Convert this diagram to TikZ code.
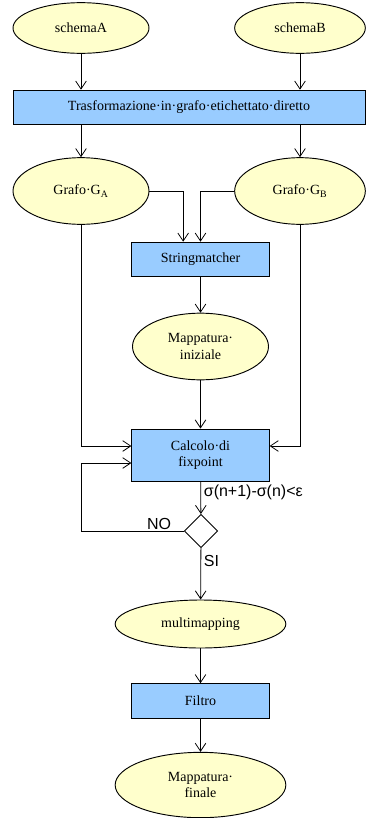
\documentclass[tikz,border=0pt]{standalone}
\usepackage{fontspec}
\setmainfont{Liberation Serif}
\newfontfamily\labelfont{Liberation Sans}
\usetikzlibrary{arrows.meta,shapes.geometric}
\definecolor{dataYellow}{HTML}{FFFFCC}
\definecolor{procBlue}{HTML}{99CCFF}

\begin{document}
\begin{tikzpicture}[
  x=0.75pt,y=-0.75pt,
  data/.style={draw,ellipse,fill=dataYellow,minimum width=102pt,minimum height=38pt,inner sep=1pt,align=center},
  proc/.style={draw,fill=procBlue,minimum width=103pt,minimum height=26pt,inner sep=1pt,align=center},
  test/.style={draw,diamond,fill=white,minimum width=25pt,minimum height=25pt,inner sep=0pt},
  flow/.style={-{Straight Barb[length=6pt,width=8pt]},line width=0.6pt},
  lbl/.style={font=\labelfont\fontsize{12}{14}\selectfont,inner sep=2pt},
  every node/.append style={font=\fontsize{10.5}{12.5}\selectfont,line width=0.7pt}
]
  \useasboundingbox (0,0) rectangle (365,818);

  % input schemas
  \node[data] (schA) at (81,28) {schemaA};
  \node[data,minimum width=98pt] (schB) at (300,28) {schemaB};
  \node[proc,minimum width=264pt] (trans) at (189,107.5) {Trasformazione·in·grafo·etichettato·diretto};
  \node[data,minimum height=50pt] (gA) at (81,191) {Grafo·G\textsubscript{A}};
  \node[data,minimum width=98pt,minimum height=50pt] (gB) at (300,191) {Grafo·G\textsubscript{B}};

  % matching
  \node[proc] (match) at (200.5,259.5) {Stringmatcher};
  \node[data,minimum height=50pt] (mapIni) at (200.5,346.5) {Mappatura·\\iniziale};
  \node[proc,minimum height=39pt] (calc) at (200.5,455) {Calcolo·di\\fixpoint};
  \node[test] (check) at (201,531) {};

  % output
  \node[data,minimum width=128pt,minimum height=36pt] (multi) at (200.5,624) {multimapping};
  \node[proc] (filter) at (200.5,701) {Filtro};
  \node[data,minimum width=128pt,minimum height=49pt] (mapFin) at (200.5,785) {Mappatura·\\finale};

  \draw[flow] (schA) -- (schA |- trans.north);
  \draw[flow] (schB) -- (schB |- trans.north);
  \draw[flow] (gA |- trans.south) -- (gA.north);
  \draw[flow] (gB |- trans.south) -- (gB.north);
  \draw[flow] (gA.east) -| ([xshift=-13pt]match.north);
  \draw[flow] (gB.west) -| (match.north);
  \draw[flow] (match) -- (mapIni);
  \draw[flow] (mapIni) -- (calc);
  \draw[flow] (gA.south) |- ([yshift=6.75pt]calc.west);
  \draw[flow] (gB.south) |- ([yshift=6.75pt]calc.east);
  \draw[flow] (calc) -- node[lbl,right,pos=.35] {σ(n+1)-σ(n)<ε} (check);
  \draw[flow] (check.west) -- node[lbl,above,pos=.24,inner sep=1pt] {NO} (check.west -| gA)
    |- ([yshift=-6pt]calc.west);
  \draw[flow] (check) -- node[lbl,right,pos=.25] {SI} (multi);
  \draw[flow] (multi) -- (filter);
  \draw[flow] (filter) -- (mapFin);
\end{tikzpicture}
\end{document}
